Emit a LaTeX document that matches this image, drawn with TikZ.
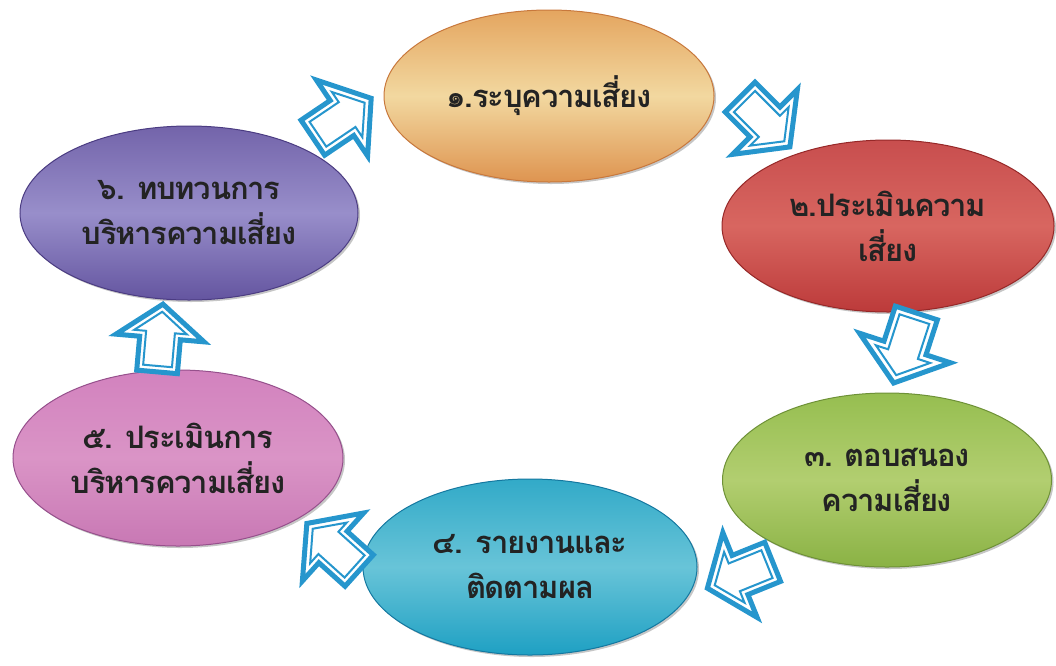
\documentclass[tikz,border=0pt]{standalone}
\usepackage{fontspec}
\newfontfamily\thaifont[Script=Thai,LetterSpace=-4]{Loma}
\usetikzlibrary{shapes.geometric,shadows}

\definecolor{arrowblue}{RGB}{38,150,205}
\definecolor{inkgray}{RGB}{35,35,35}

\tikzset{every picture/.style={line width=0.75pt}}
\tikzset{
	stage/.style={ellipse, line width=1pt, minimum width=330pt, minimum height=172pt,
		inner sep=0pt, align=center, text=inkgray,
		drop shadow={shadow xshift=2pt, shadow yshift=-2pt, opacity=0.45},
		font=\thaifont\bfseries\fontsize{31}{45}\selectfont},
	cyclearrow/.pic={
		\draw [line width=5pt, draw=arrowblue, fill=white, line join=miter]
			(40,0) -- (0,52) -- (0,24) -- (-40,24) -- (-40,-24) -- (0,-24) -- (0,-52) -- cycle ;
		\draw [line width=2pt, draw=arrowblue, line join=miter]
			(31,0) -- (7,31) -- (7,17) -- (-33,17) -- (-33,-17) -- (7,-17) -- (7,-31) -- cycle ;
	}}

\begin{document}
\begin{tikzpicture}[x=1pt,y=1pt,yscale=-1,xscale=1]
	\useasboundingbox (0,0) rectangle (1056,665);

	%Shape: Ellipse [id:stage1]
	\node (n1) [stage, draw={rgb,255:red,200;green,120;blue,60}, top color={rgb,255:red,228;green,165;blue,95}, bottom color={rgb,255:red,222;green,148;blue,80}, middle color={rgb,255:red,242;green,216;blue,160}] at (549,96) {๑.ระบุความเสี่ยง};
	%Shape: Ellipse [id:stage2]
	\node (n2) [stage, minimum width=332pt, draw={rgb,255:red,150;green,40;blue,40}, top color={rgb,255:red,200;green,78;blue,78}, bottom color={rgb,255:red,188;green,58;blue,58}, middle color={rgb,255:red,216;green,102;blue,96}] at (888,226) {๒.ประเมินความ\\เสี่ยง};
	%Shape: Ellipse [id:stage3]
	\node (n3) [stage, minimum width=329pt, minimum height=174pt, draw={rgb,255:red,110;green,145;blue,55}, top color={rgb,255:red,150;green,190;blue,80}, bottom color={rgb,255:red,138;green,178;blue,68}, middle color={rgb,255:red,178;green,206;blue,112}] at (887,480) {๓. ตอบสนอง\\ความเสี่ยง};
	%Shape: Ellipse [id:stage4]
	\node (n4) [stage, minimum width=334pt, minimum height=176pt, draw={rgb,255:red,20;green,120;blue,160}, top color={rgb,255:red,50;green,170;blue,200}, bottom color={rgb,255:red,30;green,160;blue,195}, middle color={rgb,255:red,104;green,196;blue,216}] at (530,567) {๔. รายงานและ\\ติดตามผล};
	%Shape: Ellipse [id:stage5]
	\node (n5) [stage, minimum width=330pt, minimum height=176pt, draw={rgb,255:red,150;green,80;blue,140}, top color={rgb,255:red,210;green,130;blue,190}, bottom color={rgb,255:red,200;green,120;blue,180}, middle color={rgb,255:red,218;green,148;blue,198}] at (178,458) {๕. ประเมินการ\\บริหารความเสี่ยง};
	%Shape: Ellipse [id:stage6]
	\node (n6) [stage, minimum width=338pt, minimum height=174pt, draw={rgb,255:red,75;green,60;blue,130}, top color={rgb,255:red,115;green,100;blue,170}, bottom color={rgb,255:red,100;green,85;blue,160}, middle color={rgb,255:red,152;green,142;blue,202}] at (189,213) {๖. ทบทวนการ\\บริหารความเสี่ยง};

	%Block Arrows
	\pic [rotate=34, scale=0.88] at (342,118) {cyclearrow};
	\pic [rotate=-45, scale=0.88] at (765,122) {cyclearrow};
	\pic [rotate=-108, scale=0.92] at (905,348) {cyclearrow};
	\pic [rotate=-158, scale=0.88] at (740,575) {cyclearrow};
	\pic [rotate=138, scale=0.88] at (333,547) {cyclearrow};
	\pic [rotate=85, scale=0.85] at (160,338) {cyclearrow};

\end{tikzpicture}
\end{document}
